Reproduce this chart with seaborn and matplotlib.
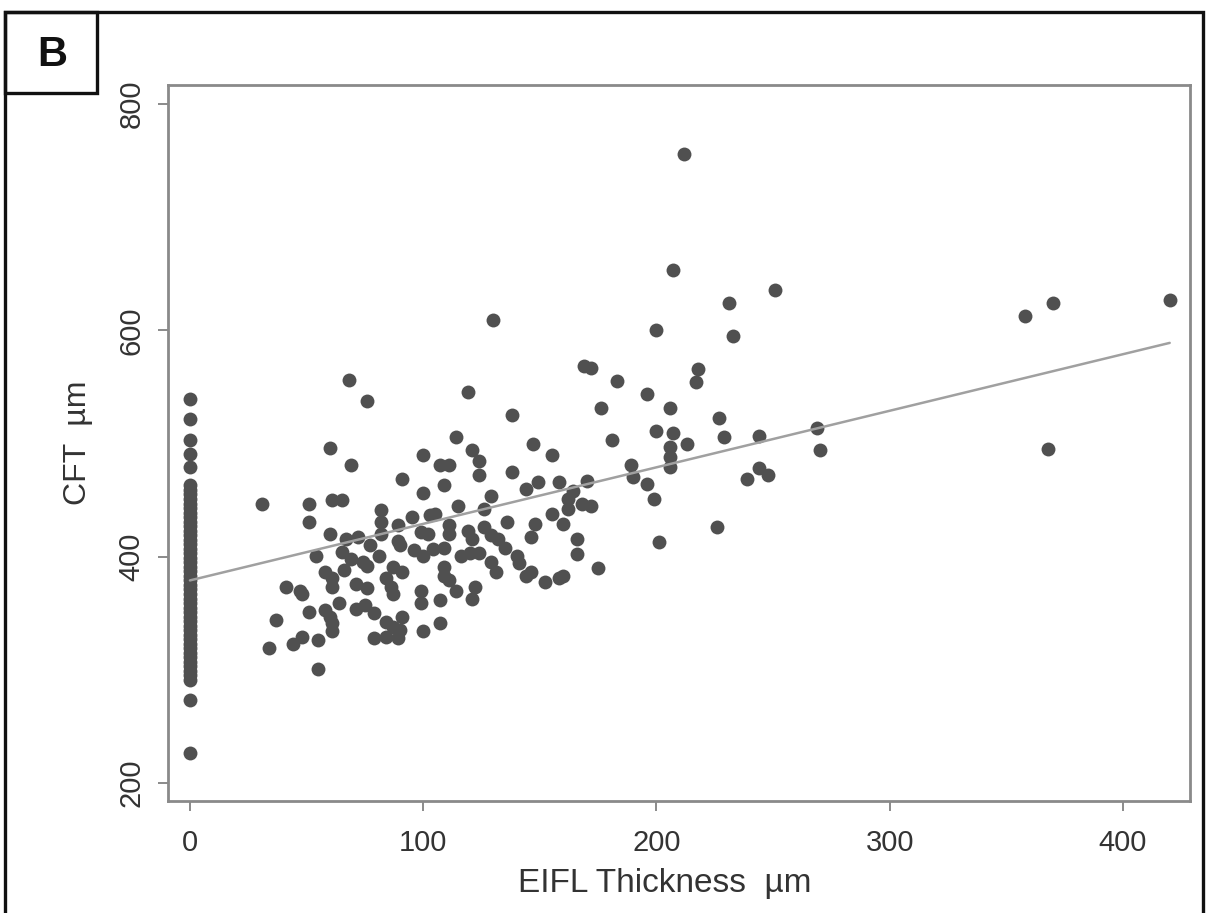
import matplotlib
matplotlib.use("Agg")
import matplotlib.pyplot as plt
import seaborn as sns
import pandas as pd
from matplotlib.patches import Rectangle

# CFT of the eyes without EIFL (the column at x = 0)
cft_no_eifl = [539, 522, 503, 491, 479,
               463, 459, 455, 451, 447, 443, 439, 435, 431, 427, 423, 419,
               415, 411, 407, 403, 399, 395, 391, 387, 383, 379, 375, 371,
               367, 363, 359, 355, 351, 347, 343, 339, 335, 331, 327, 323,
               319, 315, 311, 307, 303, 299, 295, 291,
               273, 226]

# eyes with EIFL
eifl_um = [68, 76, 60, 69,
           31, 51, 51, 61, 65, 82, 82, 89, 60, 67, 72, 77, 82, 89, 54, 65,
           69, 74, 76, 81, 87, 58, 66, 61, 61, 71, 76, 84, 86, 87, 41, 47,
           48, 64, 51, 58, 60, 61, 61, 71, 75, 79, 84, 87, 90, 89, 84, 79,
           37, 48, 44, 55, 34, 55,
           119, 138, 183, 196, 176, 114, 181, 200, 100, 121, 124, 124, 107, 111,
           147, 155, 91, 109, 138, 189, 190, 196, 199, 201, 100, 115, 129, 126,
           144, 149, 158, 170, 164, 162, 162, 168, 172, 155, 160, 148, 146, 136,
           166, 166, 175, 95, 103, 105, 111, 111, 119, 121, 126, 129, 132, 135,
           140, 141, 144, 146, 152, 158, 160, 99, 102, 90, 96, 100, 104, 109,
           116, 120, 124, 109, 109, 129, 131, 91, 99,
           212, 207, 251, 231, 233, 200, 169, 172, 218, 217, 206, 227, 207, 213,
           206, 206, 206, 229, 244, 269, 270, 239, 244, 248, 226,
           100, 107, 107, 121, 122, 114, 111, 99, 91,
           130, 358, 370, 420, 368]
cft_um = [556, 538, 496, 481,
          447, 447, 431, 450, 450, 441, 431, 428, 420, 416, 417, 410, 420, 414, 401, 404,
          398, 395, 392, 401, 391, 386, 388, 381, 373, 376, 372, 381, 373, 367, 373, 370,
          367, 359, 351, 353, 347, 341, 334, 354, 357, 350, 342, 338, 335, 328, 329, 328,
          344, 329, 323, 326, 319, 301,
          546, 525, 555, 544, 531, 506, 503, 511, 490, 494, 485, 472, 481, 481,
          500, 490, 469, 463, 475, 481, 470, 464, 451, 413, 456, 445, 454, 442,
          460, 466, 466, 467, 458, 451, 442, 447, 445, 438, 429, 429, 417, 431,
          416, 402, 390, 435, 437, 438, 428, 420, 423, 416, 426, 419, 416, 408,
          401, 394, 383, 386, 378, 381, 383, 422, 420, 410, 406, 401, 407, 408,
          401, 403, 403, 391, 383, 395, 386, 386, 370,
          756, 653, 636, 624, 595, 600, 569, 567, 566, 554, 531, 523, 509, 500,
          497, 488, 479, 506, 507, 514, 494, 469, 478, 472, 426,
          334, 341, 362, 363, 373, 370, 379, 359, 347,
          609, 613, 624, 627, 495]

# fitted line as printed in the figure (end points)
fit_eifl = [0, 420]
fit_cft = [379, 589]

df = pd.DataFrame({
    "eifl": [0] * len(cft_no_eifl) + eifl_um,
    "cft": cft_no_eifl + cft_um,
})
fit = pd.DataFrame({"eifl": fit_eifl, "cft": fit_cft})

sns.set_style("white")
plt.rcParams["font.family"] = ["Liberation Sans", "DejaVu Sans"]

fig = plt.figure(figsize=(12.07, 9.13), dpi=100)
ax = fig.add_axes([0.1392, 0.1227, 0.8467, 0.7842])

sns.scatterplot(data=df, x="eifl", y="cft", ax=ax, s=100, color="#505050",
                linewidth=0, zorder=2)
sns.lineplot(data=fit, x="eifl", y="cft", ax=ax, color="#a0a0a0", lw=1.8,
             zorder=3)

ax.set_xlim(-9.4, 428.7)
ax.set_ylim(184, 817)
ax.set_xticks([0, 100, 200, 300, 400])
ax.set_yticks([200, 400, 600, 800])
ax.tick_params(axis="both", which="both", direction="out", length=7, width=1.2,
               color="#777777", labelsize=21, labelcolor="#333333",
               bottom=True, left=True)
ax.tick_params(axis="x", pad=13)
ax.tick_params(axis="y", pad=9)
for lab in ax.get_yticklabels():
    lab.set_rotation(90)
    lab.set_va("center")

for sp in ax.spines.values():
    sp.set_color("#8a8a8a")
    sp.set_linewidth(2)

ax.set_xlabel("EIFL Thickness  µm", fontsize=24, color="#333333")
ax.set_ylabel("CFT  µm", fontsize=23, color="#333333")
ax.xaxis.set_label_coords(0.486, -0.093)
ax.yaxis.set_label_coords(-0.073, 0.5)

# outer panel frame and the "B" label box
fig.patches.append(Rectangle((5 / 1207, -0.05), 1198 / 1207, 0.05 + 1 - 12 / 913,
                             transform=fig.transFigure, fill=False,
                             edgecolor="#111111", lw=2.4, clip_on=False))
fig.patches.append(Rectangle((5 / 1207, 1 - 93 / 913), 92 / 1207, 81 / 913,
                             transform=fig.transFigure, fill=False,
                             edgecolor="#111111", lw=2.4))
fig.text(52 / 1207, 1 - 55 / 913, "B", fontsize=30, fontweight="bold",
         ha="center", va="center", color="#111111")

fig.savefig("out.png", dpi=100)
